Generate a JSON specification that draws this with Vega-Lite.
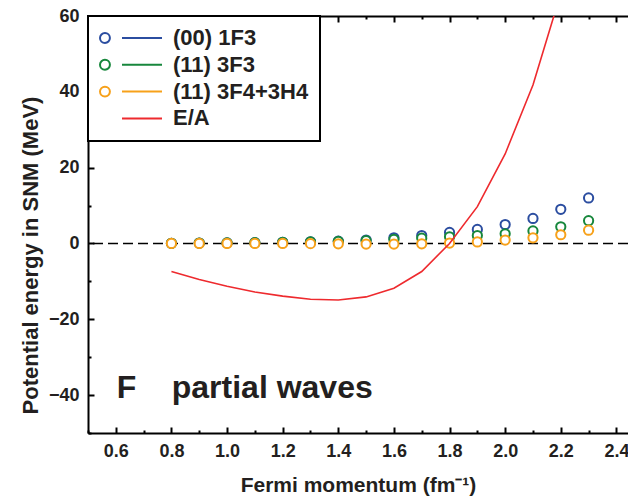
{
  "$schema": "https://vega.github.io/schema/vega-lite/v6.json",
  "autosize": "none",
  "width": 540,
  "height": 417,
  "padding": {"left": 88, "top": 16, "right": 0, "bottom": 63},
  "background": "white",
  "config": {
    "view": {"stroke": null},
    "font": "Liberation Sans",
    "legend": {"strokeWidth": 2},
    "axis": {"domainColor": "black", "domainWidth": 2, "tickColor": "black", "tickWidth": 2, "grid": false, "labelFont": "Liberation Sans", "labelFontWeight": "bold", "labelFontSize": 18, "labelColor": "#231f20", "titleFont": "Liberation Sans", "titleFontWeight": "bold", "titleFontSize": 21, "titleColor": "#231f20"}
  },
  "data": {"name": "all"},
  "datasets": {
    "all": [
      {"k": 0.8, "series": "(00) 1F3", "U": 0.05},
      {"k": 0.9, "series": "(00) 1F3", "U": 0.1},
      {"k": 1.0, "series": "(00) 1F3", "U": 0.15},
      {"k": 1.1, "series": "(00) 1F3", "U": 0.2},
      {"k": 1.2, "series": "(00) 1F3", "U": 0.3},
      {"k": 1.3, "series": "(00) 1F3", "U": 0.45},
      {"k": 1.4, "series": "(00) 1F3", "U": 0.6},
      {"k": 1.5, "series": "(00) 1F3", "U": 0.9},
      {"k": 1.6, "series": "(00) 1F3", "U": 1.5},
      {"k": 1.7, "series": "(00) 1F3", "U": 2.1},
      {"k": 1.8, "series": "(00) 1F3", "U": 2.9},
      {"k": 1.9, "series": "(00) 1F3", "U": 3.7},
      {"k": 2.0, "series": "(00) 1F3", "U": 5.0},
      {"k": 2.1, "series": "(00) 1F3", "U": 6.6},
      {"k": 2.2, "series": "(00) 1F3", "U": 9.0},
      {"k": 2.3, "series": "(00) 1F3", "U": 12.0},
      {"k": 0.8, "series": "(11) 3F3", "U": 0.05},
      {"k": 0.9, "series": "(11) 3F3", "U": 0.1},
      {"k": 1.0, "series": "(11) 3F3", "U": 0.15},
      {"k": 1.1, "series": "(11) 3F3", "U": 0.2},
      {"k": 1.2, "series": "(11) 3F3", "U": 0.3},
      {"k": 1.3, "series": "(11) 3F3", "U": 0.4},
      {"k": 1.4, "series": "(11) 3F3", "U": 0.55},
      {"k": 1.5, "series": "(11) 3F3", "U": 0.75},
      {"k": 1.6, "series": "(11) 3F3", "U": 1.05},
      {"k": 1.7, "series": "(11) 3F3", "U": 1.4},
      {"k": 1.8, "series": "(11) 3F3", "U": 1.75},
      {"k": 1.9, "series": "(11) 3F3", "U": 2.1},
      {"k": 2.0, "series": "(11) 3F3", "U": 2.55},
      {"k": 2.1, "series": "(11) 3F3", "U": 3.3},
      {"k": 2.2, "series": "(11) 3F3", "U": 4.4},
      {"k": 2.3, "series": "(11) 3F3", "U": 6.0},
      {"k": 0.8, "series": "(11) 3F4+3H4", "U": 0.0},
      {"k": 0.9, "series": "(11) 3F4+3H4", "U": 0.0},
      {"k": 1.0, "series": "(11) 3F4+3H4", "U": 0.0},
      {"k": 1.1, "series": "(11) 3F4+3H4", "U": 0.0},
      {"k": 1.2, "series": "(11) 3F4+3H4", "U": 0.0},
      {"k": 1.3, "series": "(11) 3F4+3H4", "U": -0.05},
      {"k": 1.4, "series": "(11) 3F4+3H4", "U": -0.1},
      {"k": 1.5, "series": "(11) 3F4+3H4", "U": -0.15},
      {"k": 1.6, "series": "(11) 3F4+3H4", "U": -0.15},
      {"k": 1.7, "series": "(11) 3F4+3H4", "U": -0.1},
      {"k": 1.8, "series": "(11) 3F4+3H4", "U": 0.1},
      {"k": 1.9, "series": "(11) 3F4+3H4", "U": 0.4},
      {"k": 2.0, "series": "(11) 3F4+3H4", "U": 0.9},
      {"k": 2.1, "series": "(11) 3F4+3H4", "U": 1.5},
      {"k": 2.2, "series": "(11) 3F4+3H4", "U": 2.3},
      {"k": 2.3, "series": "(11) 3F4+3H4", "U": 3.5},
      {"k": 0.8, "series": "E/A", "U": -7.4},
      {"k": 0.9, "series": "E/A", "U": -9.5},
      {"k": 1.0, "series": "E/A", "U": -11.3},
      {"k": 1.1, "series": "E/A", "U": -12.8},
      {"k": 1.2, "series": "E/A", "U": -13.9},
      {"k": 1.3, "series": "E/A", "U": -14.7},
      {"k": 1.4, "series": "E/A", "U": -14.9},
      {"k": 1.5, "series": "E/A", "U": -14.1},
      {"k": 1.6, "series": "E/A", "U": -11.8},
      {"k": 1.7, "series": "E/A", "U": -7.4},
      {"k": 1.8, "series": "E/A", "U": 0.0},
      {"k": 1.9, "series": "E/A", "U": 9.7},
      {"k": 2.0, "series": "E/A", "U": 23.6},
      {"k": 2.1, "series": "E/A", "U": 41.8},
      {"k": 2.2, "series": "E/A", "U": 66.0}
    ],
    "one": [{}]
  },
  "resolve": {"axis": {"x": "independent", "y": "independent"}},
  "layer": [
    {
      "data": {"name": "one"},
      "mark": {"type": "rule", "color": "black", "strokeWidth": 1.5, "strokeDash": [10, 5]},
      "encoding": {
        "y": {"datum": 0, "type": "quantitative", "scale": {"domain": [-50, 60], "nice": false, "zero": false},
          "axis": {"orient": "left", "values": [-40, -20, 0, 20, 40, 60], "tickSize": -6, "labelPadding": 15, "title": "Potential energy in SNM (MeV)", "titleFontSize": 22, "titleX": -51, "titleY": 239, "titleBaseline": "alphabetic", "titleAngle": -90, "titleAlign": "center"}}
      }
    },
    {
      "transform": [{"filter": "datum.series !== 'E/A'"}],
      "mark": {"type": "point", "shape": "circle", "filled": false, "fill": "white", "fillOpacity": 1, "size": 85, "strokeWidth": 2, "opacity": 1},
      "encoding": {
        "x": {"field": "k", "type": "quantitative", "scale": {"domain": [0.5, 2.4417], "nice": false, "zero": false},
          "axis": {"orient": "bottom", "values": [0.6, 0.8, 1.0, 1.2, 1.4, 1.6, 1.8, 2.0, 2.2, 2.4], "format": ".1f", "tickSize": -6, "labelPadding": 15, "title": "Fermi momentum (fm⁻¹)", "titleY": 58, "titleBaseline": "alphabetic"}},
        "y": {"field": "U", "type": "quantitative",
          "axis": {"orient": "left", "values": [-50, -30, -10, 10, 30, 50], "tickSize": -3, "labels": false, "domain": false, "title": null}},
        "color": {"field": "series", "type": "nominal",
          "scale": {"domain": ["(00) 1F3", "(11) 3F3", "(11) 3F4+3H4", "E/A"], "range": ["#2B4DA0", "#17873C", "#F7A11A", "#EE2A2E"]}}
      }
    },
    {
      "transform": [{"filter": "datum.series === 'E/A'"}],
      "mark": {"type": "line", "strokeWidth": 1.6, "clip": true},
      "encoding": {
        "x": {"field": "k", "type": "quantitative",
          "axis": {"orient": "bottom", "offset": -417, "values": [0.6, 0.8, 1.0, 1.2, 1.4, 1.6, 1.8, 2.0, 2.2, 2.4], "tickSize": 6, "labels": false, "title": null}},
        "y": {"field": "U", "type": "quantitative", "axis": null},
        "color": {"field": "series", "type": "nominal"}
      }
    },
    {
      "data": {"name": "one"},
      "mark": {"type": "text", "align": "left", "baseline": "alphabetic", "font": "Liberation Sans", "fontWeight": "bold", "fontSize": 32, "fill": "#231f20"},
      "encoding": {
        "x": {"datum": 0.603, "type": "quantitative",
          "axis": {"orient": "bottom", "values": [0.5, 0.7, 0.9, 1.1, 1.3, 1.5, 1.7, 1.9, 2.1, 2.3], "tickSize": -3, "labels": false, "domain": false, "title": null}},
        "y": {"datum": -40.7, "type": "quantitative", "axis": null},
        "text": {"value": "F\u00a0\u00a0\u00a0\u00a0partial waves"}
      }
    },
    {
      "mark": {"type": "point", "filled": false, "opacity": 0, "strokeWidth": 2},
      "encoding": {
        "x": {"field": "k", "type": "quantitative",
          "axis": {"orient": "bottom", "offset": -417, "values": [0.5, 0.7, 0.9, 1.1, 1.3, 1.5, 1.7, 1.9, 2.1, 2.3], "tickSize": 3, "labels": false, "domain": false, "title": null}},
        "y": {"field": "U", "type": "quantitative", "axis": null},
        "color": {"field": "series", "type": "nominal",
          "legend": {"orient": "top-left", "offset": 0, "title": null, "padding": 11, "strokeColor": "black", "fillColor": "white",
            "symbolSize": 3844, "symbolStrokeWidth": 2, "symbolOpacity": 1, "symbolFillColor": "transparent", "clipHeight": 22, "rowPadding": 4.8, "labelOffset": 10, "labelLimit": 400,
            "labelFont": "Liberation Sans", "labelFontWeight": "bold", "labelFontSize": 22, "labelColor": "#231f20"}},
        "shape": {"field": "series", "type": "nominal",
          "scale": {"domain": ["(00) 1F3", "(11) 3F3", "(11) 3F4+3H4", "E/A"], "range": ["M -0.68 0 A 0.16 0.16 0 1 1 -1 0 A 0.16 0.16 0 1 1 -0.68 0 M -0.29 0 L 1 0", "M -0.68 0 A 0.16 0.16 0 1 1 -1 0 A 0.16 0.16 0 1 1 -0.68 0 M -0.29 0 L 1 0", "M -0.68 0 A 0.16 0.16 0 1 1 -1 0 A 0.16 0.16 0 1 1 -0.68 0 M -0.29 0 L 1 0", "M -0.29 0 L 1 0"]},
          "legend": {"orient": "top-left", "offset": 0, "title": null, "padding": 11, "strokeColor": "black", "fillColor": "white",
            "symbolSize": 3844, "symbolStrokeWidth": 2, "symbolOpacity": 1, "symbolFillColor": "transparent", "clipHeight": 22, "rowPadding": 4.8, "labelOffset": 10, "labelLimit": 400,
            "labelFont": "Liberation Sans", "labelFontWeight": "bold", "labelFontSize": 22, "labelColor": "#231f20"}}
      }
    }
  ]
}
